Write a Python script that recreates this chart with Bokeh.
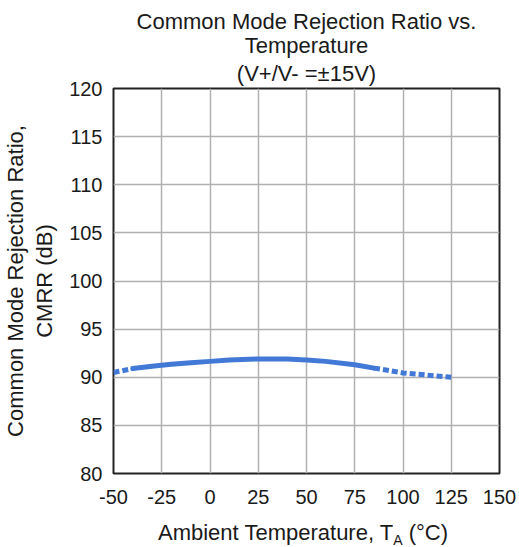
from bokeh.plotting import figure
from bokeh.models import Range1d, SingleIntervalTicker, Div, Title
from bokeh.layouts import column
from bokeh.embed import file_html
from bokeh.resources import INLINE

# ---- data ----
temp_cold = [-50, -40]
cmrr_cold = [90.5, 90.9]
temp_solid = [-40, -30, -20, -10, 0, 10, 25, 40, 50, 60, 75, 85]
cmrr_solid = [90.9, 91.15, 91.35, 91.5, 91.65, 91.8, 91.9, 91.9, 91.8, 91.65, 91.3, 90.95]
temp_hot = [85, 100, 125]
cmrr_hot = [90.95, 90.45, 90.0]

x_tick_text = {-50: "-50", -25: "-25"}
title_lines = ["Common Mode Rejection Ratio vs.", "Temperature", "(V+/V- =±15V)"]
y_label_lines = ["Common Mode Rejection Ratio,", "CMRR (dB)"]
x_label_main = "Ambient Temperature, T"
x_label_sub = "A"
x_label_unit = " (°C)"

FONT = "Liberation Sans"
TXT = "#1a1a1a"
BLUE = "#4279d6"

p = figure(width=519, height=512, output_backend="svg", toolbar_location=None,
           x_range=Range1d(-50, 150), y_range=Range1d(80, 120),
           min_border_left=112, min_border_right=20, min_border_top=88, min_border_bottom=39)
p.background_fill_color = "white"
p.border_fill_color = "white"
p.outline_line_color = "#222222"
p.outline_line_width = 2


def style_title(t, standoff):
    t.align = "center"
    t.text_font = FONT
    t.text_font_size = "22px"
    t.text_font_style = "normal"
    t.text_color = TXT
    t.text_line_height = 1.0
    t.standoff = standoff
    t.offset = 1.5


# p.title ends up outermost; added titles stack outward from the frame in order
p.title.text = title_lines[0]
style_title(p.title, -2)
t3 = Title(text=title_lines[2])
style_title(t3, 5)
p.add_layout(t3, "above")
t2 = Title(text=title_lines[1])
style_title(t2, -3)
p.add_layout(t2, "above")

for ax in (p.xaxis[0], p.yaxis[0]):
    ax.axis_line_color = None
    ax.major_tick_line_color = None
    ax.minor_tick_line_color = None
    ax.major_tick_out = 0
    ax.major_tick_in = 0
    ax.minor_tick_out = 0
    ax.minor_tick_in = 0
    ax.major_label_text_font = FONT
    ax.major_label_text_font_size = "20px"
    ax.major_label_text_color = TXT
p.xaxis[0].ticker = SingleIntervalTicker(interval=25)
p.yaxis[0].ticker = SingleIntervalTicker(interval=5)
p.xaxis[0].major_label_overrides = x_tick_text
p.xaxis[0].major_label_standoff = 16
p.yaxis[0].major_label_standoff = 11

p.yaxis[0].axis_label = "\n".join(y_label_lines)
p.yaxis[0].axis_label_text_font = FONT
p.yaxis[0].axis_label_text_font_size = "22px"
p.yaxis[0].axis_label_text_font_style = "normal"
p.yaxis[0].axis_label_text_color = TXT
p.yaxis[0].axis_label_text_line_height = 1.15
p.yaxis[0].axis_label_standoff = 9

p.grid.grid_line_color = "#b0b0b0"
p.grid.grid_line_width = 1.5

p.line(temp_solid, cmrr_solid, line_color=BLUE, line_width=5, line_cap="round", line_join="round")
p.line(temp_cold, cmrr_cold, line_color=BLUE, line_width=5, line_dash="6 3")
p.line(temp_hot, cmrr_hot, line_color=BLUE, line_width=5, line_dash="6 3")

xlabel_html = (
    '<div style="position:absolute; left:158px; top:8px; white-space:nowrap; '
    'font-family:\'Liberation Sans\'; font-size:22px; line-height:normal; color:%s;">'
    '%s<sub style="font-size:14px;">%s</sub>%s</div>' % (TXT, x_label_main, x_label_sub, x_label_unit)
)
xlab = Div(text=xlabel_html, width=519, height=35, margin=(0, 0, 0, 0),
           styles={"position": "relative", "overflow": "visible"})

layout = column(p, xlab, spacing=0)
open("out.html", "w").write(file_html(layout, INLINE))
